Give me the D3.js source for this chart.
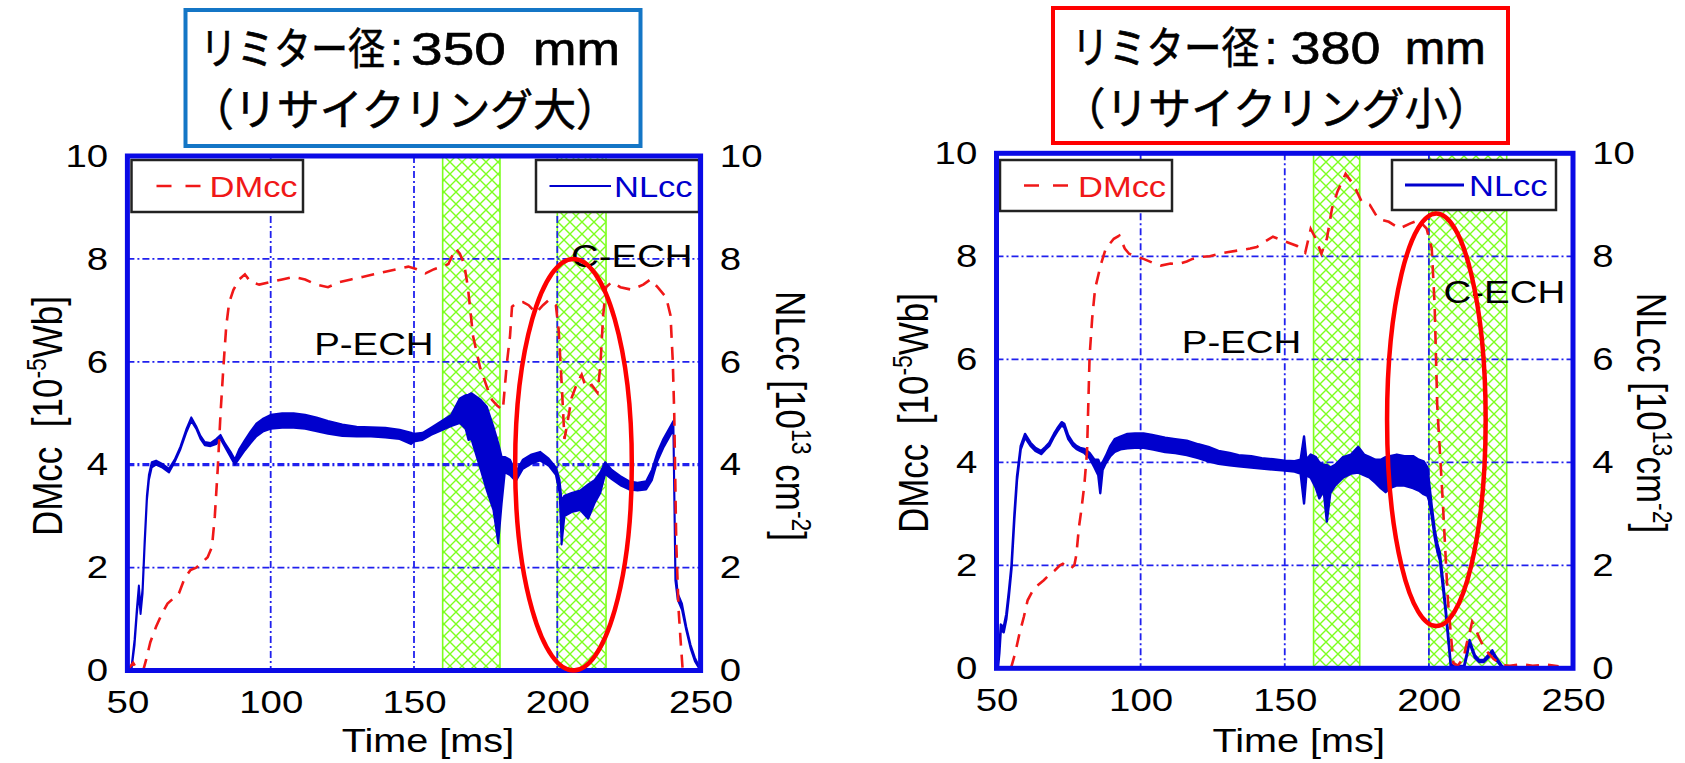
<!DOCTYPE html>
<html>
<head>
<meta charset="utf-8">
<script src="https://cdn.jsdelivr.net/npm/d3@7"></script>
<style>
  html, body { margin: 0; padding: 0; background: #ffffff; }
  svg { display: block; }
</style>
</head>
<body>
<svg id="fig" width="1685" height="763"></svg>
<script>
// ---------- shared axes ----------
const timeTicks  = [50, 100, 150, 200, 250];
const valueTicks = [0, 2, 4, 6, 8, 10];
const timeGrid   = [100, 150, 200];
const valueGrid  = [2, 4, 6, 8];
const seriesNames = ["DMcc", "NLcc"];
const echNames    = ["P-ECH", "C-ECH"];

// ---------- shot A : limiter 350 mm ----------
const titleA1 = ["リミター径", ":", "350", "mm"];
const titleA2 = "（リサイクリング大）";

const dmTimeA = [50, 52, 53, 55.5, 56.5, 58, 60, 62, 64, 66,
  68, 70, 72, 74, 76, 78, 79.5, 80.5, 81.5, 82.5,
  83.5, 84.5, 85.5, 87, 89, 91, 93, 96, 100, 104,
  108, 112, 116, 120, 124, 128, 132, 136, 140, 144,
  148, 151, 154, 157, 160, 162, 164.5, 166, 167.5, 168.8,
  170.6, 173, 175.5, 177.2, 179, 181, 182.4, 183.5, 184.2, 186,
  188, 190, 192.5, 195, 197, 199.5, 200.5, 201.5, 202.5, 203.5,
  205, 207, 208.5, 210, 212, 214, 215, 216, 217, 219,
  222, 226, 230, 232.5, 235, 238, 239.5, 240.3, 240.8, 241.5,
  242.3, 243, 243.7, 245];
const dmValueA = [0, 0.15, 0.05, 0, 0.2, 0.55, 0.85, 1.1, 1.3, 1.4,
  1.5, 1.8, 1.95, 2.0, 2.1, 2.2, 2.4, 3.0, 3.9, 5.0,
  5.9, 6.7, 7.15, 7.4, 7.6, 7.7, 7.55, 7.5, 7.55, 7.6,
  7.65, 7.6, 7.5, 7.45, 7.55, 7.6, 7.65, 7.7, 7.75, 7.8,
  7.85, 7.8, 7.72, 7.8, 7.85, 7.9, 8.2, 8.1, 7.9, 7.45,
  6.5, 5.9, 5.5, 5.26, 5.15, 5.06, 5.97, 6.5, 7.07, 7.15,
  7.16, 7.1, 6.95, 7.1, 7.2, 7.1, 6.6, 5.6, 4.5, 4.8,
  5.3, 5.6, 5.75, 5.5, 5.55, 5.4, 5.9, 6.9, 7.45, 7.55,
  7.45, 7.4, 7.5, 7.6, 7.45, 7.25, 6.9, 6.0, 5.0, 2.5,
  1.2, 0.6, 0.05, 0];

// NLcc is very noisy: kept as the lower / upper edge of the trace
const nlTimeA = [50.5, 51.5, 52.5, 53.3, 54, 54.6, 55.3, 56, 56.8, 57.5,
  58.5, 60, 62, 64.5, 66.5, 68.5, 70.5, 72.3, 74, 75.5,
  77, 79, 81, 82.5, 84, 86, 87.5, 89, 91, 93,
  95, 97.5, 100, 104, 108, 112, 116, 120, 125, 130,
  135, 140, 145, 149, 150, 153, 156, 160, 163, 166,
  168, 169, 170, 173.3, 175.4, 177.7, 179.4, 180.6, 181.7, 183.5,
  185.5, 188, 191, 194, 197, 199.5, 200.8, 201.5, 202.5, 205,
  208, 210.8, 213, 215, 216.7, 219, 222, 225, 228, 231,
  233, 235, 237, 239, 240.5, 241.2, 242, 243.5, 245, 246.5,
  248, 249.5, 250];
const nlLowA = [0, 0.05, 0.5, 1.1, 1.5, 1.1, 1.5, 2.4, 3.3, 3.7,
  3.95, 4.0, 3.95, 3.85, 4.05, 4.3, 4.62, 4.85, 4.7, 4.5,
  4.38, 4.36, 4.4, 4.5, 4.35, 4.15, 4.0, 4.12, 4.28, 4.42,
  4.55, 4.65, 4.7, 4.72, 4.72, 4.7, 4.65, 4.6, 4.56, 4.55,
  4.55, 4.53, 4.5, 4.4, 4.45, 4.48, 4.58, 4.68, 4.75, 4.81,
  4.7, 4.48, 4.5, 3.9, 3.5, 3.12, 2.47, 3.25, 3.85, 3.8,
  3.68, 3.92, 4.02, 4.08, 3.98, 3.8, 3.45, 2.45, 3.0, 3.08,
  3.12, 2.95, 3.25, 3.45, 3.82, 3.72, 3.6, 3.52, 3.5, 3.52,
  3.7, 4.08, 4.33, 4.53, 4.68, 1.75, 1.38, 1.18, 0.78, 0.43,
  0.18, 0.04, 0];
const nlHighA = [0, 0.1, 0.6, 1.2, 1.65, 1.2, 1.6, 2.5, 3.4, 3.8,
  4.05, 4.08, 4.02, 3.92, 4.1, 4.35, 4.68, 4.92, 4.75, 4.56,
  4.44, 4.42, 4.5, 4.58, 4.42, 4.25, 4.1, 4.3, 4.48, 4.65,
  4.8, 4.9, 4.97, 5.0, 5.0, 4.97, 4.92, 4.85, 4.78, 4.74,
  4.73, 4.72, 4.68, 4.62, 4.6, 4.62, 4.72, 4.86, 4.97, 5.29,
  5.35, 5.36, 5.39, 5.26, 5.13, 4.74, 4.42, 4.15, 4.15, 4.1,
  3.85, 4.1, 4.2, 4.25, 4.12, 3.95, 3.7, 3.3, 3.4, 3.45,
  3.5, 3.62, 3.7, 3.85, 4.05, 3.9, 3.78, 3.68, 3.65, 3.68,
  3.9, 4.25, 4.5, 4.7, 4.85, 2.0, 1.5, 1.3, 0.85, 0.5,
  0.25, 0.08, 0];

const echStartA = [160, 200];
const echEndA   = [180, 217];
const echLabelTimeA  = [136, 226];
const echLabelValueA = [6.14, 7.85];
const ovalTimeA  = [185.3, 226];
const ovalValueA = [0, 8];

// ---------- shot B : limiter 380 mm ----------
const titleB1 = ["リミター径", ":", "380", "mm"];
const titleB2 = "（リサイクリング小）";

const dmTimeB = [55, 56.5, 58, 59.5, 60.8, 62.5, 63.6, 66.4, 68, 70.2,
  72, 73, 74.5, 75.8, 77, 77.7, 78.6, 79.5, 80.5, 81.4,
  82.3, 83.2, 84.2, 86.1, 87.9, 90.7, 92.6, 94.5, 96, 98.2,
  101, 104.8, 107, 110.4, 113, 116, 118, 121.6, 124, 127.2,
  130, 134.7, 138, 140.3, 143, 145.9, 149.6, 152, 154.3, 157.1,
  159, 160.8, 162.7, 164.6, 166.4, 168.3, 171.1, 173.9, 176.7, 179.5,
  182.3, 184, 186.1, 189.8, 193.6, 196.4, 199.2, 201, 202, 202.9,
  203.8, 204.8, 205.7, 206.6, 207.6, 208.5, 210, 212, 213.2, 214.1,
  215, 216.3, 217.8, 219.2, 220.7, 222.5, 224.4, 226, 228.1, 232,
  236, 241, 245];
const dmValueB = [0, 0.3, 0.68, 1.0, 1.32, 1.5, 1.58, 1.71, 1.8, 1.9,
  2.0, 2.03, 1.95, 1.94, 2.0, 2.2, 2.74, 3.1, 3.58, 4.2,
  6.06, 6.8, 7.37, 7.82, 8.15, 8.34, 8.4, 8.15, 8.05, 8.0,
  7.95, 7.86, 7.82, 7.86, 7.85, 7.9, 7.95, 7.99, 8.0, 8.05,
  8.08, 8.12, 8.15, 8.18, 8.28, 8.38, 8.3, 8.25, 8.2, 8.07,
  8.53, 8.34, 8.05, 8.34, 8.93, 9.26, 9.6, 9.39, 9.06, 9.0,
  8.74, 8.7, 8.67, 8.54, 8.64, 8.7, 8.54, 8.15, 7.05, 5.1,
  4.23, 3.26, 2.29, 1.32, 0.68, 0.1, 0.05, 0.2, 0.5, 0.68,
  0.9, 0.75, 0.55, 0.4, 0.29, 0.18, 0.1, 0.06, 0.05, 0.08,
  0.05, 0.07, 0.04];

const nlTimeB = [50.5, 51, 51.5, 52.5, 53.4, 54.3, 55.2, 56.2, 57.1, 58.4,
  59.9, 61.8, 63.5, 65.5, 67, 68.3, 70, 71.1, 72.6, 73.5,
  74.9, 76.5, 77.7, 79, 80.5, 82.3, 84, 85.3, 86, 86.8,
  87.9, 89.5, 91, 93, 95.4, 98, 101, 104, 108.5, 112,
  116, 120, 123.5, 127, 130.9, 134, 138.4, 142, 145.9, 150,
  153.4, 155.5, 156.7, 157.5, 159, 160.8, 162, 163.5, 164.6, 165.8,
  167.5, 170.2, 173, 175.5, 177.5, 179.5, 181.5, 183.3, 185, 186.5,
  188.9, 191.5, 194.5, 196.5, 198.2, 199.5, 200.1, 201, 202, 203,
  203.8, 204.8, 205.7, 206.6, 207.6, 209, 212.2, 213.2, 214.1, 215,
  216, 217.5, 219, 220.5, 222, 223.5, 225.3, 226.5];
const nlLowB = [0, 0.3, 0.75, 0.7, 0.95, 1.4, 1.93, 2.9, 3.65, 4.25,
  4.48, 4.32, 4.22, 4.16, 4.25, 4.32, 4.5, 4.6, 4.72, 4.68,
  4.45, 4.32, 4.26, 4.22, 4.18, 4.08, 3.9, 3.75, 3.4, 3.85,
  3.98, 4.12, 4.2, 4.25, 4.27, 4.28, 4.28, 4.25, 4.2, 4.18,
  4.14, 4.08, 4.02, 3.97, 3.94, 3.92, 3.9, 3.88, 3.86, 3.84,
  3.82, 3.78, 3.2, 3.75, 3.7, 3.5, 3.3, 3.45, 2.85, 3.4,
  3.55, 3.7, 3.78, 3.8, 3.75, 3.7, 3.6, 3.5, 3.42, 3.5,
  3.55, 3.55, 3.5, 3.45, 3.38, 3.35, 3.25, 2.95, 2.55, 2.25,
  2.1, 1.6, 1.15, 0.62, 0.02, 0, 0, 0.25, 0.5, 0.35,
  0.2, 0.12, 0.12, 0.2, 0.3, 0.15, 0.02, 0];
const nlHighB = [0, 0.4, 0.85, 0.8, 1.05, 1.5, 2.0, 2.98, 3.72, 4.32,
  4.55, 4.38, 4.28, 4.22, 4.3, 4.38, 4.56, 4.66, 4.78, 4.75,
  4.52, 4.38, 4.32, 4.28, 4.26, 4.18, 4.05, 4.05, 3.95, 4.0,
  4.12, 4.32, 4.45, 4.5, 4.55, 4.56, 4.56, 4.53, 4.48, 4.45,
  4.42, 4.35, 4.3, 4.22, 4.18, 4.14, 4.12, 4.08, 4.06, 4.03,
  4.02, 4.05, 4.5, 4.05, 4.15, 4.1, 4.0, 3.95, 3.95, 3.9,
  3.95, 4.1, 4.15, 4.3, 4.15, 4.1, 4.05, 4.05, 4.1, 4.12,
  4.15, 4.12, 4.12, 4.05, 4.02, 3.9, 3.6, 3.15, 2.7, 2.4,
  2.25, 1.75, 1.25, 0.72, 0.08, 0.03, 0.05, 0.3, 0.55, 0.4,
  0.25, 0.16, 0.16, 0.25, 0.35, 0.2, 0.05, 0];

const echStartB = [160, 200];
const echEndB   = [176, 227];
const echLabelTimeB  = [135, 226.2];
const echLabelValueB = [6.12, 7.09];
const ovalTimeB  = [185.5, 219.7];
const ovalValueB = [0.82, 8.83];

// ---------- styling ----------
const FRAME_BLUE = "#0a0ae6";
const GRID_BLUE  = "#2020ee";
const NL_BLUE    = "#0000cd";
const DM_RED     = "#f01818";
const HATCH_GREEN = "#7cff1e";
const TXT_FONT = "'Liberation Sans', Arial, sans-serif";
const JP_FONT  = "'Noto Sans CJK JP', 'Noto Sans CJK SC', sans-serif";
const STRETCH = 1.2;   // the figure's lettering is drawn slightly wide

const svg = d3.select("#fig");
svg.append("rect").attr("width", 1685).attr("height", 763).attr("fill", "#fff");
const defs = svg.append("defs");

const hatch = defs.append("pattern")
  .attr("id", "hatch")
  .attr("patternUnits", "userSpaceOnUse")
  .attr("width", 12).attr("height", 12);
hatch.append("path")
  .attr("d", "M-2,-2L14,14M14,-2L-2,14")
  .attr("stroke", HATCH_GREEN).attr("stroke-width", 1.4).attr("fill", "none");

// a text run squeezed or widened horizontally to a given width
function fittedText(parent, str, font, size, x0, base, width) {
  const t = parent.append("text")
    .attr("font-family", font).attr("font-size", size)
    .attr("fill", "#000").attr("stroke", "#000").attr("stroke-width", 0.6)
    .text(str);
  const natural = t.node().getComputedTextLength();
  t.attr("transform", `translate(${x0},${base}) scale(${width / natural},1)`);
  return t;
}

// framed two-line heading; line 1 is laid out piece by piece
function drawTitle(box, parts, line2, color) {
  const g = svg.append("g");
  g.append("rect")
    .attr("x", box.x).attr("y", box.y).attr("width", box.w).attr("height", box.h)
    .attr("fill", "#fff").attr("stroke", color).attr("stroke-width", 4);
  parts.forEach((s, i) => {
    fittedText(g, s, i === 0 ? JP_FONT : TXT_FONT, i === 0 ? 44 : 46,
               box.px[i], box.base[0], box.plen[i]);
  });
  fittedText(g, line2, JP_FONT, 44, box.x2, box.base[1], box.len2);
}

function drawPanel(p) {
  const g = svg.append("g");
  const x = d3.scaleLinear()
    .domain([timeTicks[0], timeTicks[timeTicks.length - 1]])
    .range([p.left, p.right]);
  const y = d3.scaleLinear()
    .domain([valueTicks[0], valueTicks[valueTicks.length - 1]])
    .range([p.bottom, p.top]);

  const clipId = "clip-" + p.id;
  defs.append("clipPath").attr("id", clipId).append("rect")
    .attr("x", p.left).attr("y", p.top)
    .attr("width", p.right - p.left).attr("height", p.bottom - p.top);
  const plot = g.append("g").attr("clip-path", `url(#${clipId})`);

  // ECH heating windows
  plot.selectAll("rect.ech")
    .data(d3.zip(p.echStart, p.echEnd))
    .join("rect").attr("class", "ech")
    .attr("x", d => x(d[0])).attr("width", d => x(d[1]) - x(d[0]))
    .attr("y", p.top - 5).attr("height", p.bottom - p.top + 10)
    .attr("fill", "url(#hatch)")
    .attr("stroke", HATCH_GREEN).attr("stroke-width", 1.6);

  // grid
  plot.selectAll("line.vg").data(timeGrid).join("line").attr("class", "vg")
    .attr("x1", d => x(d)).attr("x2", d => x(d))
    .attr("y1", p.top).attr("y2", p.bottom)
    .attr("stroke", GRID_BLUE).attr("stroke-width", 1.8)
    .attr("stroke-dasharray", "7,3,2,3");
  plot.selectAll("line.hg").data(valueGrid).join("line").attr("class", "hg")
    .attr("x1", p.left).attr("x2", p.right)
    .attr("y1", d => y(d)).attr("y2", d => y(d))
    .attr("stroke", GRID_BLUE)
    .attr("stroke-width", d => (d === 4 ? p.grid4Width : 1.8))
    .attr("stroke-dasharray", "7,3,2,3");

  // NLcc (noise band between lower and upper edge)
  const nl = d3.zip(p.nlTime, p.nlLow, p.nlHigh);
  plot.append("path").datum(nl)
    .attr("d", d3.area().x(d => x(d[0])).y0(d => y(d[1])).y1(d => y(d[2])))
    .attr("fill", NL_BLUE).attr("stroke", NL_BLUE)
    .attr("stroke-width", p.nlWidth).attr("stroke-linejoin", "round");

  // DMcc
  const dm = d3.zip(p.dmTime, p.dmValue);
  plot.append("path").datum(dm)
    .attr("d", d3.line().x(d => x(d[0])).y(d => y(d[1])))
    .attr("fill", "none").attr("stroke", DM_RED).attr("stroke-width", 2.6)
    .attr("stroke-dasharray", "13,9");

  // legends
  p.legends.forEach((L, i) => {
    const lg = g.append("g");
    lg.append("rect")
      .attr("x", L.x).attr("y", L.y).attr("width", L.w).attr("height", L.h)
      .attr("fill", "#fff").attr("stroke", "#222").attr("stroke-width", 2.5);
    const cy = L.y + L.h / 2;
    lg.append("line")
      .attr("x1", L.x + L.s0).attr("x2", L.x + L.s1)
      .attr("y1", cy).attr("y2", cy)
      .attr("stroke", i === 0 ? DM_RED : NL_BLUE)
      .attr("stroke-width", i === 0 ? 2.4 : L.lw)
      .attr("stroke-dasharray", i === 0 ? "15,14" : null);
    lg.append("text")
      .attr("transform", `translate(${L.x + L.t0},${cy + 11}) scale(1.15,1)`)
      .attr("font-family", TXT_FONT).attr("font-size", 30)
      .attr("fill", i === 0 ? DM_RED : NL_BLUE)
      .text(seriesNames[i]);
  });

  // window labels
  g.selectAll("text.ech")
    .data(d3.zip(echNames, p.echLabelTime, p.echLabelValue))
    .join("text").attr("class", "ech")
    .attr("transform", d => `translate(${x(d[1])},${y(d[2])}) scale(${STRETCH},1)`)
    .attr("text-anchor", "middle")
    .attr("font-family", TXT_FONT).attr("font-size", 32).attr("fill", "#000")
    .text(d => d[0]);

  // frame
  g.append("rect")
    .attr("x", p.left).attr("y", p.top)
    .attr("width", p.right - p.left).attr("height", p.bottom - p.top)
    .attr("fill", "none").attr("stroke", FRAME_BLUE).attr("stroke-width", 5);

  // tick labels
  const styleTicks = sel => {
    sel.select(".domain").remove();
    sel.attr("font-size", null).attr("font-family", null);
    sel.selectAll("text")
      .attr("font-family", TXT_FONT).attr("font-size", 32).attr("fill", "#000")
      .attr("transform", `scale(${STRETCH},1)`);
  };
  g.append("g").attr("transform", `translate(0,${p.bottom})`)
    .call(d3.axisBottom(x).tickValues(timeTicks).tickSize(0).tickPadding(19.5))
    .call(styleTicks);
  g.append("g").attr("transform", `translate(${p.left},0)`)
    .call(d3.axisLeft(y).tickValues(valueTicks).tickSize(0).tickPadding(16))
    .call(styleTicks);
  g.append("g").attr("transform", `translate(${p.right},0)`)
    .call(d3.axisRight(y).tickValues(valueTicks).tickSize(0).tickPadding(16))
    .call(styleTicks);

  // axis titles
  g.append("text")
    .attr("transform", `translate(${(p.left + p.right) / 2 + 14},752) scale(${STRETCH},1)`)
    .attr("text-anchor", "middle")
    .attr("font-family", TXT_FONT).attr("font-size", 33).attr("fill", "#000")
    .text("Time [ms]");

  const yl = g.append("text")
    .attr("transform", `translate(${p.yTitleX},${p.yTitleY}) rotate(-90) scale(1,${STRETCH})`)
    .attr("text-anchor", "middle")
    .attr("font-family", TXT_FONT).attr("font-size", 35).attr("fill", "#000");
  yl.append("tspan").text("DMcc\u00a0\u00a0[10");
  yl.append("tspan").attr("dy", -13).attr("font-size", 23).text("-5");
  yl.append("tspan").attr("dy", 13).text("Wb]");

  const yr = g.append("text")
    .attr("transform", `translate(${p.y2TitleX},${p.yTitleY}) rotate(90) scale(1,${STRETCH})`)
    .attr("text-anchor", "middle")
    .attr("font-family", TXT_FONT).attr("font-size", 35).attr("fill", "#000");
  yr.append("tspan").text("NLcc\u00a0[10");
  yr.append("tspan").attr("dy", -13).attr("font-size", 23).text("13");
  yr.append("tspan").attr("dy", 13).text(p.cmGap ? "\u00a0cm" : "cm");
  yr.append("tspan").attr("dy", -13).attr("font-size", 23).text("-2");
  yr.append("tspan").attr("dy", 13).text("]");

  // highlighted region
  g.append("ellipse")
    .attr("cx", (x(p.ovalTime[0]) + x(p.ovalTime[1])) / 2)
    .attr("cy", (y(p.ovalValue[0]) + y(p.ovalValue[1])) / 2)
    .attr("rx", (x(p.ovalTime[1]) - x(p.ovalTime[0])) / 2)
    .attr("ry", (y(p.ovalValue[0]) - y(p.ovalValue[1])) / 2)
    .attr("fill", "none").attr("stroke", "#ff0000").attr("stroke-width", 4.5);
}

drawTitle({ x: 185.5, y: 10, w: 455, h: 136, base: [64.5, 125.5],
            px: [200, 390, 411, 533], plen: [185, 13, 95, 87],
            x2: 191, len2: 428 }, titleA1, titleA2, "#1476c6");
drawTitle({ x: 1053, y: 8, w: 455, h: 135, base: [63.5, 124.5],
            px: [1071.5, 1264.5, 1290.4, 1404.7], plen: [187.5, 13, 90, 81],
            x2: 1062.5, len2: 428 }, titleB1, titleB2, "#ff0000");

drawPanel({
  id: "a", left: 127.4, right: 700.6, top: 156, bottom: 670.5,
  dmTime: dmTimeA, dmValue: dmValueA,
  nlTime: nlTimeA, nlLow: nlLowA, nlHigh: nlHighA,
  echStart: echStartA, echEnd: echEndA,
  echLabelTime: echLabelTimeA, echLabelValue: echLabelValueA,
  ovalTime: ovalTimeA, ovalValue: ovalValueA,
  nlWidth: 2, grid4Width: 3.2, cmGap: true,
  yTitleX: 62, yTitleY: 416, y2TitleX: 776,
  legends: [
    { x: 131.5, y: 160, w: 171.5, h: 52, s0: 25, s1: 69, t0: 78, lw: 2 },
    { x: 536, y: 160, w: 163, h: 52, s0: 13.5, s1: 75, t0: 78, lw: 2 }
  ]
});

drawPanel({
  id: "b", left: 996.5, right: 1573, top: 153.3, bottom: 668.3,
  dmTime: dmTimeB, dmValue: dmValueB,
  nlTime: nlTimeB, nlLow: nlLowB, nlHigh: nlHighB,
  echStart: echStartB, echEnd: echEndB,
  echLabelTime: echLabelTimeB, echLabelValue: echLabelValueB,
  ovalTime: ovalTimeB, ovalValue: ovalValueB,
  nlWidth: 2.4, grid4Width: 1.8, cmGap: false,
  yTitleX: 928, yTitleY: 413, y2TitleX: 1637,
  legends: [
    { x: 1000, y: 160, w: 172, h: 51, s0: 24, s1: 68, t0: 78, lw: 3 },
    { x: 1392, y: 160, w: 164, h: 50, s0: 13, s1: 72, t0: 77, lw: 3.2 }
  ]
});
</script>
</body>
</html>
